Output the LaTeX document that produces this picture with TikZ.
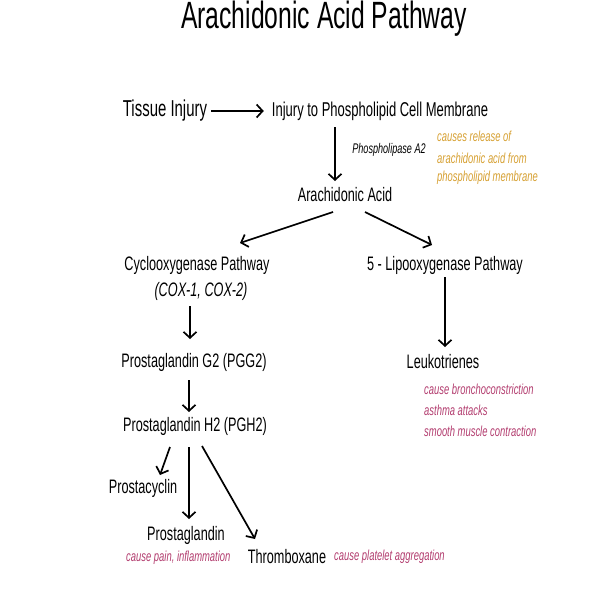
\documentclass[tikz,border=0pt]{standalone}
\usepackage{fontspec}
\setmainfont{Liberation Sans}[FakeStretch=0.65]
\usetikzlibrary{arrows.meta}
\definecolor{gold}{RGB}{214,160,50}
\definecolor{pinkish}{RGB}{178,60,110}
\tikzset{
  lbl/.style={inner sep=0pt, font=\fontsize{19.5}{22}\selectfont},
  note/.style={inner sep=0pt, anchor=west, font=\fontsize{14.5}{16}\selectfont\itshape},
  arr/.style={line width=1.7pt, -{Straight Barb[length=6pt,width=13pt,line width=1.7pt]}},
}
\begin{document}
\begin{tikzpicture}[x=1pt,y=-1pt]
\useasboundingbox (0,0) rectangle (600,600);
\node[inner sep=0pt, font=\fontsize{38}{42}\selectfont] (title) at (324,19) {Arachidonic Acid Pathway};
\node[inner sep=0pt, font=\fontsize{23}{25}\selectfont] (tissue) at (165,111) {Tissue Injury};
\node[lbl, font=\fontsize{20}{22}\selectfont] (membrane) at (380,111) {Injury to Phospholipid Cell Membrane};
\node[inner sep=0pt, font=\fontsize{14}{16}\selectfont\itshape] (pla2) at (389,150) {Phospholipase A2};
\node[note, text=gold] (g1) at (437,136) {causes release of};
\node[note, text=gold] (g2) at (437,158) {arachidonic acid from};
\node[note, text=gold] (g3) at (437,178) {phospholipid membrane};
\node[lbl] (aa) at (345,195) {Arachidonic Acid};
\node[lbl] (cox) at (197,265) {Cyclooxygenase Pathway};
\node[lbl, font=\fontsize{19.5}{22}\selectfont\itshape] (coxn) at (201,291) {(COX-1, COX-2)};
\node[lbl] (lox) at (445,265) {5 - Lipooxygenase Pathway};
\node[lbl] (pgg) at (194,362) {Prostaglandin G2 (PGG2)};
\node[lbl] (leuk) at (443,362) {Leukotrienes};
\node[note, text=pinkish] (p1) at (424,389) {cause bronchoconstriction};
\node[note, text=pinkish] (p2) at (424,410) {asthma attacks};
\node[note, text=pinkish] (p3) at (424,431) {smooth muscle contraction};
\node[lbl] (pgh) at (195,426) {Prostaglandin H2 (PGH2)};
\node[lbl] (pcy) at (143,488) {Prostacyclin};
\node[lbl] (pg) at (186,535) {Prostaglandin};
\node[note, text=pinkish] (pain) at (126,558) {cause pain, inflammation};
\node[lbl] (thx) at (287,557) {Thromboxane};
\node[note, text=pinkish] (plt) at (334,557) {cause platelet aggregation};

\draw[arr, line width=2.6pt] ([xshift=4pt]tissue.east) -- ([xshift=-8pt]membrane.west);
\draw[arr] (335,127) -- (335,181);
\draw[arr] (333,212) -- (240,243);
\draw[arr] (365,212) -- (432,245);
\draw[arr] (190,306) -- (190,339);
\draw[arr] (445,277) -- (445,347);
\draw[arr] (189,380) -- (189,412);
\draw[arr] (170,447) -- (160,475);
\draw[arr] (189,447) -- (189,519);
\draw[arr] (202,446) -- (255,539);
\end{tikzpicture}
\end{document}
